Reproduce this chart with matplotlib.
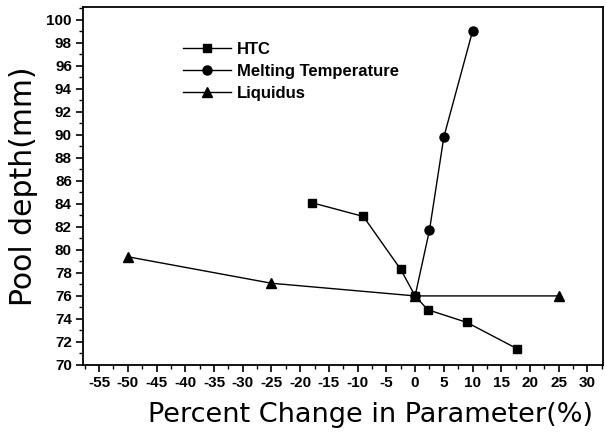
import matplotlib
matplotlib.use("Agg")
import matplotlib.pyplot as plt
from matplotlib.ticker import MultipleLocator

plt.rcParams['axes.unicode_minus'] = False

# percent change vs pool depth for each parameter
htc_x = [-18, -9, -2.5, 0, 2.2, 9, 17.8]
htc_y = [84.1, 82.9, 78.3, 76.0, 74.8, 73.7, 71.4]

melt_x = [0, 2.5, 5, 10]
melt_y = [76.0, 81.7, 89.8, 99.0]

liq_x = [-50, -25, 0, 25]
liq_y = [79.4, 77.1, 76.0, 76.0]

bold_fam = ['Liberation Sans', 'DejaVu Sans']
tick_font = {'family': bold_fam, 'weight': 'bold', 'size': 11}

fig = plt.figure(figsize=(6.06, 4.34), dpi=100)
ax = fig.add_axes([0.137, 0.159, 0.858, 0.825])

ax.plot(htc_x, htc_y, color='black', lw=1, marker='s', ms=6, label='HTC')
ax.plot(melt_x, melt_y, color='black', lw=1, marker='o', ms=6.5, label='Melting Temperature')
ax.plot(liq_x, liq_y, color='black', lw=1, marker='^', ms=7, label='Liquidus')

ax.set_xlim(-57.8, 32.7)
ax.set_ylim(70, 101.1)
ax.xaxis.set_minor_locator(MultipleLocator(2.5))
ax.yaxis.set_minor_locator(MultipleLocator(1))
ax.set_xticks(range(-55, 31, 5))
ax.set_yticks(range(70, 101, 2))
ax.tick_params(which='major', direction='out', length=5, width=1.2, pad=3)
ax.tick_params(which='minor', direction='out', length=3, width=1)

for lab in ax.get_xticklabels() + ax.get_yticklabels():
    lab.set_fontproperties(tick_font)

for sp in ax.spines.values():
    sp.set_linewidth(1.3)

ax.set_xlabel('Percent Change in Parameter(%)', fontsize=19.5)
ax.xaxis.set_label_coords(0.552, -0.104)
ax.set_ylabel('Pool depth(mm)', fontsize=21.5, labelpad=6)

ax.legend(loc='upper left', bbox_to_anchor=(0.176, 0.926), frameon=False,
          borderpad=0, handlelength=2.9, handletextpad=0.35, labelspacing=0.42,
          prop={'family': bold_fam, 'weight': 'bold', 'size': 12})

fig.savefig('out.png', dpi=100)
